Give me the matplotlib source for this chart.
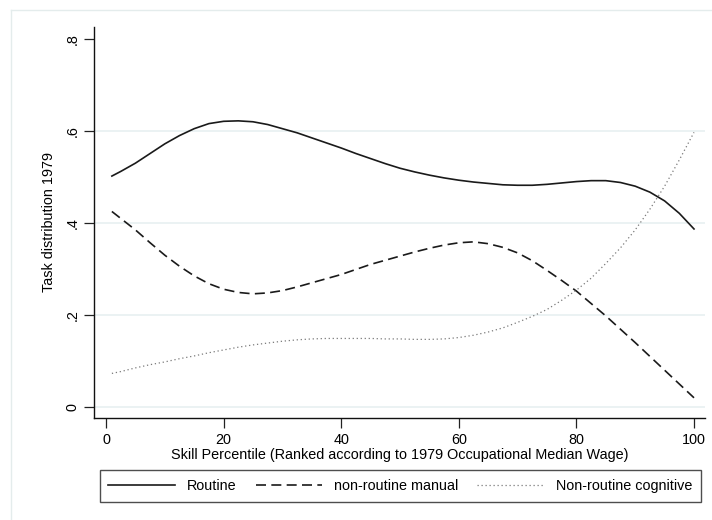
import matplotlib
matplotlib.use("Agg")
import matplotlib.pyplot as plt
from matplotlib.lines import Line2D

plt.rcParams["font.family"] = ["Liberation Sans", "DejaVu Sans"]

# skill percentile grid and the three smoothed task shares
percentile = [1, 2.5, 5, 7.5, 10, 12.5, 15, 17.5, 20, 22.5, 25, 27.5, 30, 32.5, 35, 37.5,
              40, 42.5, 45, 47.5, 50, 52.5, 55, 57.5, 60, 62.5, 65, 67.5, 70, 72.5, 75,
              77.5, 80, 82.5, 85, 87.5, 90, 92.5, 95, 97.5, 100]
routine = [0.502, 0.512, 0.530, 0.551, 0.572, 0.590, 0.605, 0.616, 0.621, 0.622, 0.620,
           0.614, 0.605, 0.596, 0.585, 0.574, 0.563, 0.551, 0.540, 0.529, 0.519, 0.511,
           0.504, 0.498, 0.493, 0.489, 0.486, 0.483, 0.482, 0.482, 0.484, 0.487, 0.490,
           0.492, 0.492, 0.488, 0.480, 0.467, 0.448, 0.421, 0.387]
nr_manual = [0.425, 0.410, 0.385, 0.357, 0.330, 0.306, 0.285, 0.268, 0.256, 0.249, 0.246,
             0.248, 0.253, 0.261, 0.270, 0.279, 0.288, 0.299, 0.310, 0.319, 0.328, 0.337,
             0.345, 0.352, 0.357, 0.359, 0.355, 0.347, 0.335, 0.318, 0.297, 0.275, 0.252,
             0.225, 0.198, 0.169, 0.140, 0.110, 0.080, 0.050, 0.020]
nr_cognitive = [0.073, 0.077, 0.085, 0.092, 0.098, 0.105, 0.111, 0.118, 0.124, 0.130, 0.135,
                0.139, 0.143, 0.146, 0.148, 0.149, 0.149, 0.149, 0.149, 0.148, 0.148, 0.147,
                0.147, 0.148, 0.151, 0.156, 0.163, 0.172, 0.184, 0.197, 0.212, 0.232, 0.254,
                0.280, 0.312, 0.346, 0.385, 0.430, 0.480, 0.537, 0.597]

labels = ["Routine", "non-routine manual", "Non-routine cognitive"]
xticks = [0, 20, 40, 60, 80, 100]
yticks = [0, 0.2, 0.4, 0.6, 0.8]
yticklabels = ["0", ".2", ".4", ".6", ".8"]
gridvals = [0, 0.2, 0.4, 0.6]

fs = 10.4

fig = plt.figure(figsize=(7.12, 5.2), dpi=100)
fig.patch.set_facecolor("white")

# light outer graph-region border (top and left visible)
border = "#e4ecec"
fig.add_artist(Line2D([10.5 / 712, 10.5 / 712], [0, 1 - 9.5 / 520], color=border, lw=1.0))
fig.add_artist(Line2D([10.5 / 712, 1], [1 - 9.5 / 520, 1 - 9.5 / 520], color=border, lw=1.0))

ax = fig.add_axes([94 / 712, 1 - 418 / 520, (705 - 94) / 712, (418 - 27) / 520])
for g in gridvals:
    ax.axhline(g, color="#e8f0f1", lw=1.2, zorder=0)

ax.plot(percentile, routine, color="#1a1a1a", lw=1.2, label=labels[0])
ax.plot(percentile, nr_manual, color="#1a1a1a", lw=1.2, linestyle=(0, (6.0, 3.2)), label=labels[1])
ax.plot(percentile, nr_cognitive, color="#7a7a7a", lw=0.9, linestyle=(0, (1, 2.2)), label=labels[2])

ax.set_xlim(-2.04, 101.87)
ax.set_ylim(-0.0239, 0.826)
ax.set_xticks(xticks)
ax.set_yticks(yticks)
ax.set_yticklabels(yticklabels, rotation=90, va="center")
ax.tick_params(axis="both", length=7, width=0.9, color="#222222", labelsize=fs, pad=3.5)

for s in ["top", "right"]:
    ax.spines[s].set_visible(False)
for s in ["left", "bottom"]:
    ax.spines[s].set_linewidth(1.0)
    ax.spines[s].set_color("#111111")

ax.set_xlabel("Skill Percentile (Ranked according to 1979 Occupational Median Wage)", fontsize=fs, labelpad=1)
ax.set_ylabel("Task distribution 1979", fontsize=fs, labelpad=7)

leg = fig.legend(loc="center", bbox_to_anchor=(400.4 / 712, 1 - 486 / 520), ncol=3,
                 fontsize=fs, frameon=True, fancybox=False, handlelength=4.6,
                 handletextpad=0.85, columnspacing=1.3, borderpad=0.6)
leg.get_frame().set_edgecolor("#222222")
leg.get_frame().set_linewidth(1.0)

fig.savefig("out.png", dpi=100, facecolor="white")
